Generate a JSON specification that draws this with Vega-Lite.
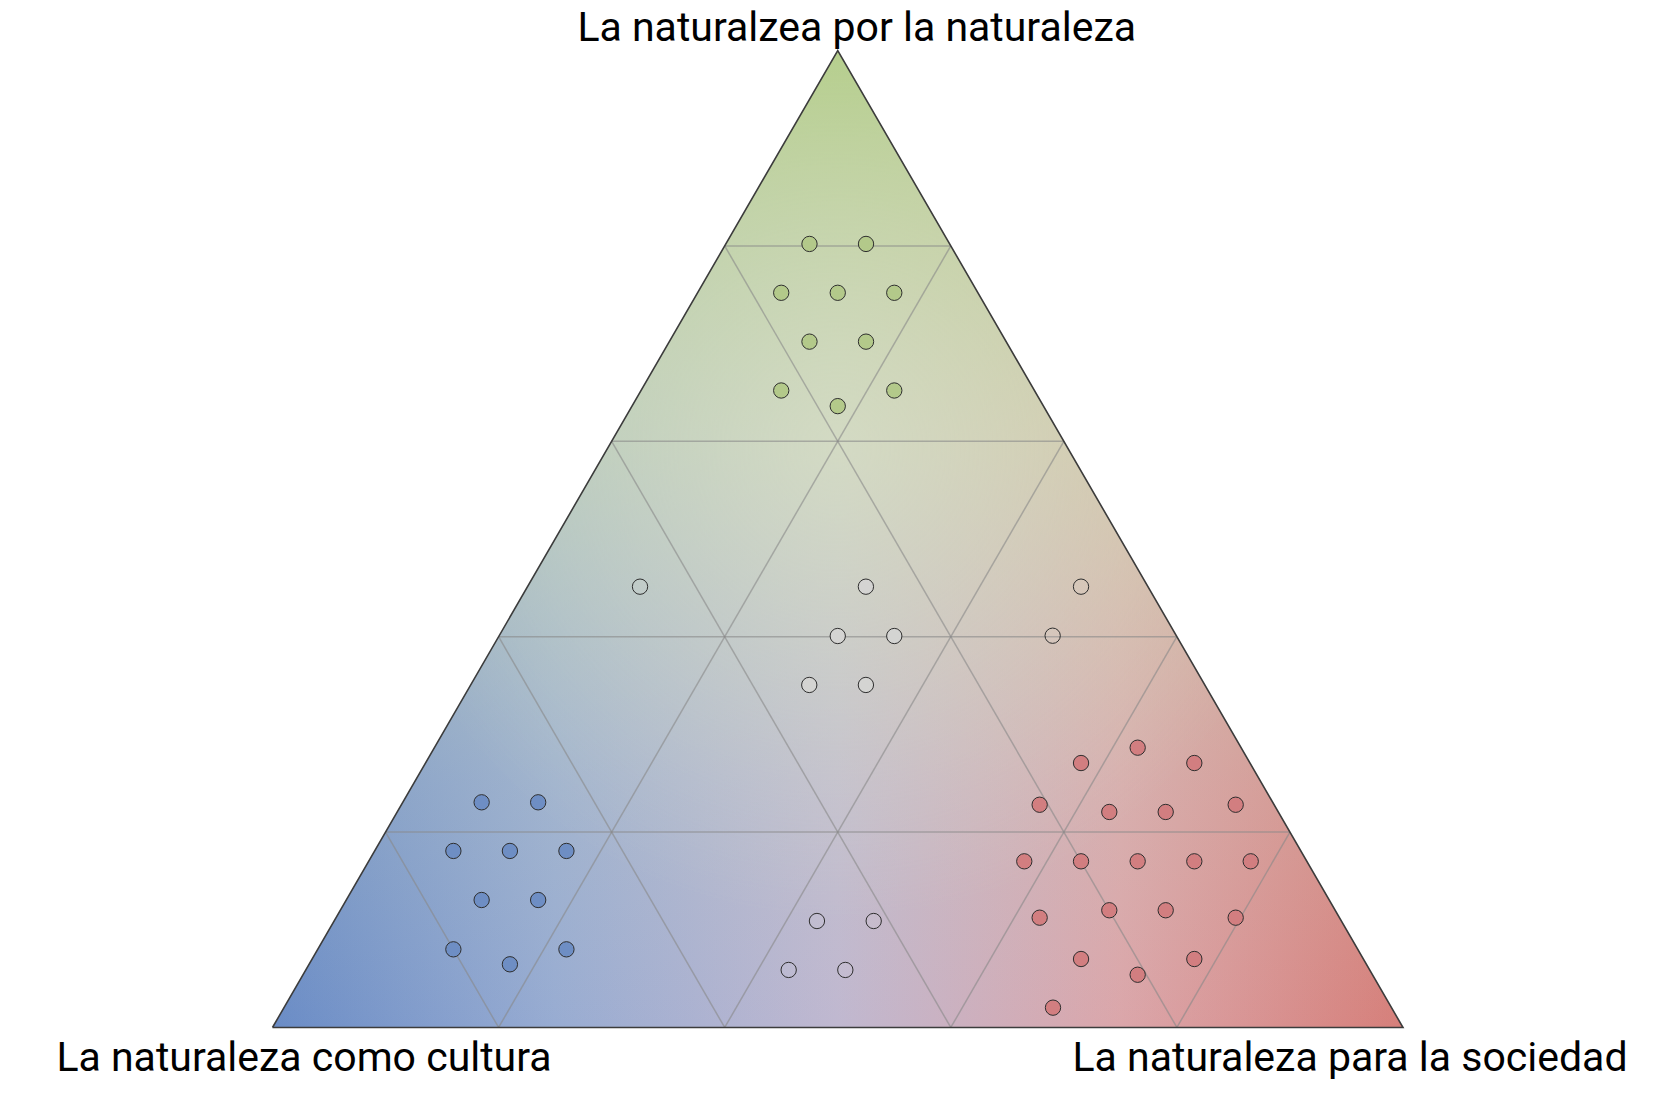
{
  "$schema": "https://vega.github.io/schema/vega-lite/v6.json",
  "width": 1666,
  "height": 1106,
  "autosize": {"type": "none"},
  "padding": 0,
  "background": "white",
  "config": {"view": {"stroke": null}, "font": "Roboto"},
  "datasets": {
    "triangulo": [
      {"x": 0, "y": 0, "y2": 0},
      {"x": 0.5, "y": 0, "y2": 1},
      {"x": 1, "y": 0, "y2": 0}
    ],
    "contorno": [
      {"x": 0, "y": 0, "orden": 1},
      {"x": 0.5, "y": 1, "orden": 2},
      {"x": 1, "y": 0, "orden": 3},
      {"x": 0, "y": 0, "orden": 4}
    ],
    "rejilla": [
      {"x": 0.1, "y": 0.2, "x2": 0.9, "y2": 0.2},
      {"x": 0.2, "y": 0.4, "x2": 0.8, "y2": 0.4},
      {"x": 0.3, "y": 0.6, "x2": 0.7, "y2": 0.6},
      {"x": 0.4, "y": 0.8, "x2": 0.6, "y2": 0.8},
      {"x": 0.2, "y": 0, "x2": 0.1, "y2": 0.2},
      {"x": 0.4, "y": 0, "x2": 0.2, "y2": 0.4},
      {"x": 0.6, "y": 0, "x2": 0.3, "y2": 0.6},
      {"x": 0.8, "y": 0, "x2": 0.4, "y2": 0.8},
      {"x": 0.2, "y": 0, "x2": 0.6, "y2": 0.8},
      {"x": 0.4, "y": 0, "x2": 0.7, "y2": 0.6},
      {"x": 0.6, "y": 0, "x2": 0.8, "y2": 0.4},
      {"x": 0.8, "y": 0, "x2": 0.9, "y2": 0.2}
    ],
    "puntos": [
      {"grupo": "naturaleza", "x": 0.475, "y": 0.802},
      {"grupo": "naturaleza", "x": 0.525, "y": 0.802},
      {"grupo": "naturaleza", "x": 0.450, "y": 0.752},
      {"grupo": "naturaleza", "x": 0.500, "y": 0.752},
      {"grupo": "naturaleza", "x": 0.550, "y": 0.752},
      {"grupo": "naturaleza", "x": 0.475, "y": 0.702},
      {"grupo": "naturaleza", "x": 0.525, "y": 0.702},
      {"grupo": "naturaleza", "x": 0.450, "y": 0.652},
      {"grupo": "naturaleza", "x": 0.550, "y": 0.652},
      {"grupo": "naturaleza", "x": 0.500, "y": 0.636},
      {"grupo": "cultura", "x": 0.185, "y": 0.2305},
      {"grupo": "cultura", "x": 0.235, "y": 0.2305},
      {"grupo": "cultura", "x": 0.160, "y": 0.1807},
      {"grupo": "cultura", "x": 0.210, "y": 0.1807},
      {"grupo": "cultura", "x": 0.260, "y": 0.1807},
      {"grupo": "cultura", "x": 0.185, "y": 0.1305},
      {"grupo": "cultura", "x": 0.235, "y": 0.1305},
      {"grupo": "cultura", "x": 0.160, "y": 0.080},
      {"grupo": "cultura", "x": 0.260, "y": 0.080},
      {"grupo": "cultura", "x": 0.210, "y": 0.0647},
      {"grupo": "sociedad", "x": 0.7653, "y": 0.2864},
      {"grupo": "sociedad", "x": 0.7152, "y": 0.2707},
      {"grupo": "sociedad", "x": 0.8154, "y": 0.2707},
      {"grupo": "sociedad", "x": 0.6786, "y": 0.2280},
      {"grupo": "sociedad", "x": 0.7402, "y": 0.2206},
      {"grupo": "sociedad", "x": 0.7901, "y": 0.2206},
      {"grupo": "sociedad", "x": 0.8520, "y": 0.2280},
      {"grupo": "sociedad", "x": 0.6650, "y": 0.1701},
      {"grupo": "sociedad", "x": 0.7152, "y": 0.1701},
      {"grupo": "sociedad", "x": 0.7653, "y": 0.1701},
      {"grupo": "sociedad", "x": 0.8154, "y": 0.1701},
      {"grupo": "sociedad", "x": 0.8653, "y": 0.1701},
      {"grupo": "sociedad", "x": 0.6786, "y": 0.1124},
      {"grupo": "sociedad", "x": 0.7402, "y": 0.1200},
      {"grupo": "sociedad", "x": 0.7901, "y": 0.1200},
      {"grupo": "sociedad", "x": 0.8520, "y": 0.1124},
      {"grupo": "sociedad", "x": 0.7152, "y": 0.0701},
      {"grupo": "sociedad", "x": 0.8154, "y": 0.0701},
      {"grupo": "sociedad", "x": 0.7653, "y": 0.0540},
      {"grupo": "sociedad", "x": 0.6904, "y": 0.0203},
      {"grupo": "centro", "x": 0.5249, "y": 0.4512},
      {"grupo": "centro", "x": 0.5000, "y": 0.4007},
      {"grupo": "centro", "x": 0.5500, "y": 0.4007},
      {"grupo": "centro", "x": 0.4748, "y": 0.3506},
      {"grupo": "centro", "x": 0.5249, "y": 0.3506},
      {"grupo": "mixto", "x": 0.4816, "y": 0.1090},
      {"grupo": "mixto", "x": 0.5318, "y": 0.1090},
      {"grupo": "mixto", "x": 0.4566, "y": 0.0589},
      {"grupo": "mixto", "x": 0.5067, "y": 0.0589},
      {"grupo": "mixto", "x": 0.3251, "y": 0.4512},
      {"grupo": "mixto", "x": 0.7152, "y": 0.4512},
      {"grupo": "mixto", "x": 0.6901, "y": 0.4010}
    ]
  },
  "encoding": {
    "x": {"field": "x", "type": "quantitative", "scale": {"domain": [-0.24104, 1.23264], "nice": false, "zero": false}, "axis": null},
    "y": {"field": "y", "type": "quantitative", "scale": {"domain": [-0.08035, 1.05169], "nice": false, "zero": false}, "axis": null}
  },
  "layer": [
    {
      "data": {"name": "triangulo"},
      "mark": {
        "type": "area",
        "fill": {
          "gradient": "linear", "x1": 0, "y1": 0, "x2": 1, "y2": 0,
          "stops": [
            {"offset": 0, "color": "#6a8cc6"},
            {"offset": 0.25, "color": "#98acd2"},
            {"offset": 0.5, "color": "#c0b8d0"},
            {"offset": 0.75, "color": "#dba6aa"},
            {"offset": 1, "color": "#d67f7a"}
          ]
        }
      },
      "encoding": {"y2": {"field": "y2"}}
    },
    {
      "data": {"name": "triangulo"},
      "mark": {
        "type": "area",
        "fill": {
          "gradient": "linear", "x1": 0, "y1": 0, "x2": 0, "y2": 1,
          "stops": [
            {"offset": 0, "color": "rgba(178,204,136,1)"},
            {"offset": 0.4, "color": "rgba(200,216,170,0.62)"},
            {"offset": 0.75, "color": "rgba(200,212,190,0.2)"},
            {"offset": 1, "color": "rgba(200,212,190,0)"}
          ]
        }
      },
      "encoding": {"y2": {"field": "y2"}}
    },
    {
      "data": {"name": "triangulo"},
      "mark": {
        "type": "area",
        "fill": {
          "gradient": "radial", "x1": 0.5, "y1": 0.42, "r1": 0, "x2": 0.5, "y2": 0.42, "r2": 0.42,
          "stops": [
            {"offset": 0, "color": "rgba(232,240,212,0.4)"},
            {"offset": 1, "color": "rgba(232,240,212,0)"}
          ]
        }
      },
      "encoding": {"y2": {"field": "y2"}}
    },
    {
      "data": {"name": "rejilla"},
      "mark": {"type": "rule", "stroke": "#888888", "strokeOpacity": 0.6, "strokeWidth": 1.5},
      "encoding": {"x2": {"field": "x2"}, "y2": {"field": "y2"}}
    },
    {
      "data": {"name": "contorno"},
      "mark": {"type": "line", "stroke": "#3c3c3c", "strokeWidth": 1.6, "strokeJoin": "miter"},
      "encoding": {"order": {"field": "orden", "type": "quantitative"}}
    },
    {
      "data": {"name": "puntos"},
      "mark": {"type": "point", "shape": "circle", "filled": true, "size": 235, "stroke": "#2e2e2e", "strokeWidth": 1, "opacity": 1},
      "encoding": {
        "fill": {
          "field": "grupo", "type": "nominal", "legend": null,
          "scale": {
            "domain": ["naturaleza", "cultura", "sociedad", "centro", "mixto"],
            "range": ["#b3c98a", "#6e8ec4", "#d27e80", "#d4d4d2", "rgba(255,255,255,0.05)"]
          }
        }
      }
    },
    {
      "data": {"values": [{"etiqueta": "La naturalzea por la naturaleza", "x": 0.5, "y": 1}]},
      "mark": {"type": "text", "fontSize": 41, "align": "center", "baseline": "alphabetic", "dx": 19, "dy": -10, "color": "#000000"},
      "encoding": {"text": {"field": "etiqueta"}}
    },
    {
      "data": {"values": [{"etiqueta": "La naturaleza como cultura", "x": 0, "y": 0}]},
      "mark": {"type": "text", "fontSize": 41, "align": "center", "baseline": "alphabetic", "dx": 31.5, "dy": 43.5, "color": "#000000"},
      "encoding": {"text": {"field": "etiqueta"}}
    },
    {
      "data": {"values": [{"etiqueta": "La naturaleza para la sociedad", "x": 1, "y": 0}]},
      "mark": {"type": "text", "fontSize": 41, "align": "center", "baseline": "alphabetic", "dx": -53, "dy": 43.5, "color": "#000000"},
      "encoding": {"text": {"field": "etiqueta"}}
    }
  ]
}
